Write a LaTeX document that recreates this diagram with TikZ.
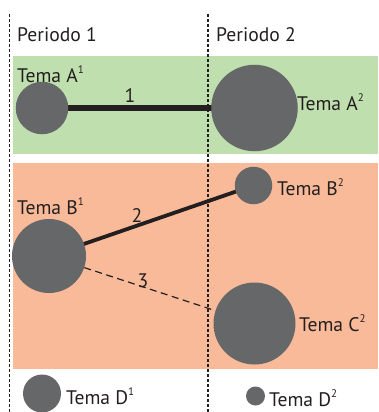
\documentclass[tikz,border=0pt]{standalone}
\usepackage{fontspec}
\setmainfont{PT Sans}
\pgfdeclarelayer{bands}
\pgfdeclarelayer{links}
\pgfsetlayers{bands,links,main}
\newcommand{\supnum}[1]{\raisebox{0.42em}{\fontsize{11}{11}\selectfont #1}}
\begin{document}
\begin{tikzpicture}[x=1pt,y=-1pt,
  topic/.style={circle,fill=topicgray,inner sep=0pt,minimum size=#1},
  lbl/.style={font=\fontsize{19.6}{21}\selectfont,text=textdark,inner sep=0pt},
  period/.style={draw=textdark,line width=1.1pt,dash pattern=on 3pt off 2pt},
  strong/.style={draw=textdark,line width=#1},
  weak/.style={draw=textdark,line width=1.2pt,dash pattern=on 7pt off 4.5pt}]
\definecolor{topicgray}{HTML}{666769}
\definecolor{bandgreen}{HTML}{C0DFAE}
\definecolor{bandorange}{HTML}{F9BA99}
\definecolor{textdark}{HTML}{231F20}
\useasboundingbox (0,0) rectangle (378,412);
\begin{pgfonlayer}{bands}
\fill[white] (0,0) rectangle (378,412);
\fill[bandgreen] (13,56) rectangle (378,154);
\fill[bandorange] (13,163) rectangle (378,369);
\coordinate (p1top) at (9.5,14);
\coordinate (p1bot) at (9.5,412);
\coordinate (p2top) at (208,14);
\coordinate (p2bot) at (208,412);
\draw[period] (p1top) -- (p1bot);
\draw[period] (p2top) -- (p2bot);
\end{pgfonlayer}
% period titles
\node[lbl,anchor=base west] (per1) at (17,42) {Periodo 1};
\node[lbl,anchor=base west] (per2) at (216,42) {Periodo 2};
% topics
\node[topic=52.5pt] (A1) at (42,108) {};
\node[topic=86.5pt] (A2) at (254.5,108) {};
\node[topic=74pt] (B1) at (49,256) {};
\node[topic=37.5pt] (B2) at (253.5,185.5) {};
\node[topic=82pt] (C2) at (254.5,323.5) {};
\node[topic=38pt] (D1) at (42,393.5) {};
\node[topic=19pt] (D2) at (255.5,396) {};
% labels
\node[lbl,anchor=base west] (tA1) at (17,82) {Tema A\supnum{1}};
\node[lbl,anchor=base west] (tA2) at (297,110) {Tema A\supnum{2}};
\node[lbl,anchor=base west] (tB1) at (17,214) {Tema B\supnum{1}};
\node[lbl,anchor=base west] (tB2) at (277,195) {Tema B\supnum{2}};
\node[lbl,anchor=base west] (tC2) at (299,331) {Tema C\supnum{2}};
\node[lbl,anchor=base west] (tD1) at (66,404) {Tema D\supnum{1}};
\node[lbl,anchor=base west] (tD2) at (269,406) {Tema D\supnum{2}};
% connectors
\begin{pgfonlayer}{links}
\draw[strong=6pt] (A1.center) -- (A2.center);
\draw[strong=3.8pt] (B1.center) -- (B2.center);
\draw[weak] (B1) -- (C2);
\end{pgfonlayer}
\node[lbl,anchor=base] (n1) at (130,102) {1};
\node[lbl,anchor=base] (n2) at (137,222) {2};
\node[lbl,anchor=base] (n3) at (143,287) {3};
\end{tikzpicture}
\end{document}
